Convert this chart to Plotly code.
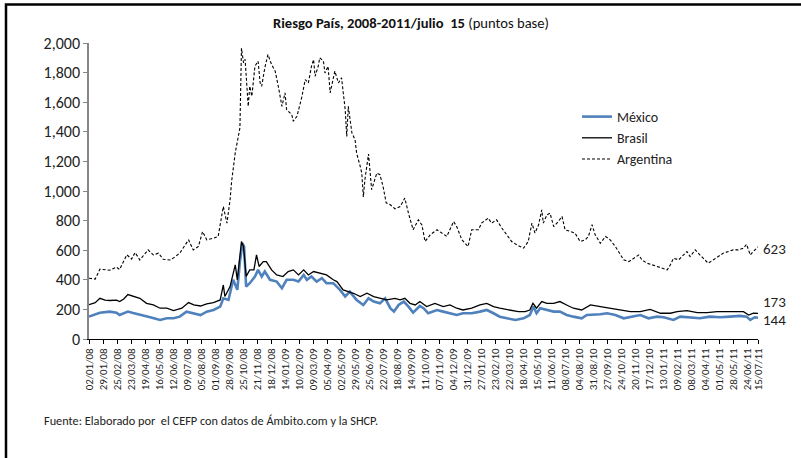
import plotly.graph_objects as go

# ---------------- data ----------------
arg_dates = ["2008-01-02","2008-01-14","2008-01-23","2008-02-11","2008-02-24","2008-03-01","2008-03-15","2008-03-24",
 "2008-03-31","2008-04-09","2008-04-25","2008-05-05","2008-05-15","2008-05-24","2008-06-06","2008-06-12","2008-06-25",
 "2008-07-12","2008-07-21","2008-07-31","2008-08-08","2008-08-16","2008-08-28","2008-09-07","2008-09-17","2008-09-24",
 "2008-09-30","2008-10-03","2008-10-10","2008-10-14","2008-10-19","2008-10-22","2008-10-26","2008-10-29","2008-11-04",
 "2008-11-07","2008-11-11","2008-11-17","2008-11-23","2008-11-27","2008-11-30","2008-12-06","2008-12-12","2008-12-19",
 "2008-12-26","2009-01-01","2009-01-08","2009-01-14","2009-01-17","2009-01-27","2009-01-30","2009-02-06","2009-02-15",
 "2009-02-22","2009-02-28","2009-03-06","2009-03-10","2009-03-13","2009-03-19","2009-03-22","2009-03-29","2009-04-01",
 "2009-04-07","2009-04-11","2009-04-17","2009-04-20","2009-04-27","2009-05-03","2009-05-10","2009-05-13","2009-05-16",
 "2009-05-19","2009-05-23","2009-05-29","2009-06-01","2009-06-08","2009-06-11","2009-06-14","2009-06-17","2009-06-24",
 "2009-06-30","2009-07-10","2009-07-16","2009-07-22","2009-07-28","2009-08-05","2009-08-14","2009-08-24","2009-09-02",
 "2009-09-09","2009-09-18","2009-09-28","2009-10-05","2009-10-11","2009-10-21","2009-11-03","2009-11-12","2009-11-22",
 "2009-12-05","2009-12-11","2009-12-21","2010-01-02","2010-01-09","2010-01-22","2010-01-28","2010-02-10","2010-02-16",
 "2010-02-26","2010-03-08","2010-03-18","2010-03-27","2010-04-06","2010-04-19","2010-04-28","2010-05-05","2010-05-11",
 "2010-05-18","2010-05-24","2010-05-27","2010-06-03","2010-06-09","2010-06-16","2010-06-25","2010-07-02","2010-07-08",
 "2010-07-18","2010-07-27","2010-08-06","2010-08-16","2010-08-22","2010-08-29","2010-09-04","2010-09-14","2010-09-24",
 "2010-10-03","2010-10-13","2010-10-19","2010-10-29","2010-11-08","2010-11-17","2010-11-27","2010-12-03","2010-12-13",
 "2010-12-23","2011-01-01","2011-01-14","2011-01-21","2011-01-27","2011-02-02","2011-02-12","2011-02-21","2011-02-28",
 "2011-03-06","2011-03-16","2011-03-25","2011-04-04","2011-04-10","2011-04-20","2011-04-30","2011-05-09","2011-05-19",
 "2011-05-28","2011-06-07","2011-06-17","2011-06-23","2011-06-30","2011-07-06","2011-07-15"]
arg_vals = [411,405,472,465,485,470,569,540,
 584,534,602,568,580,539,534,545,580,
 670,602,625,726,670,680,692,895,783,
 940,1065,1258,1347,1426,1965,1866,1890,1572,
 1708,1640,1843,1877,1731,1708,1832,1922,1855,
 1810,1708,1572,1663,1550,1516,1471,1505,1629,
 1753,1730,1843,1888,1775,1843,1900,1877,1798,
 1843,1663,1753,1810,1730,1765,1550,1369,1572,
 1505,1392,1347,1257,1166,1121,960,1076,1250,
 1009,1121,1110,1031,920,907,880,895,952,
 850,738,805,770,659,704,738,716,693,
 794,760,670,625,738,738,783,817,783,
 805,750,704,659,636,614,659,783,716,
 772,873,783,839,850,760,794,828,738,
 727,716,659,670,693,772,704,647,693,
 670,625,591,535,523,546,568,535,512,
 501,490,478,467,501,546,535,568,591,
 557,602,568,535,512,535,557,580,591,
 602,602,614,640,568,591,623]

bra_dates = ["2008-01-02","2008-01-14","2008-01-23","2008-02-02","2008-02-11","2008-02-24","2008-03-01","2008-03-09",
 "2008-03-17","2008-03-27","2008-04-09","2008-04-22","2008-05-05","2008-05-18","2008-05-31","2008-06-13","2008-06-29",
 "2008-07-12","2008-07-22","2008-08-04","2008-08-16","2008-08-29","2008-09-11","2008-09-17","2008-09-20","2008-09-30",
 "2008-10-10","2008-10-14","2008-10-18","2008-10-22","2008-10-26","2008-10-31","2008-11-07","2008-11-15","2008-11-20",
 "2008-11-25","2008-12-03","2008-12-09","2008-12-19","2008-12-29","2009-01-10","2009-01-20","2009-01-30","2009-02-09",
 "2009-02-19","2009-02-28","2009-03-10","2009-03-22","2009-04-04","2009-04-17","2009-04-24","2009-05-06","2009-05-26",
 "2009-06-08","2009-06-21","2009-07-04","2009-07-16","2009-07-29","2009-08-14","2009-08-24","2009-09-02","2009-09-12",
 "2009-09-22","2009-10-01","2009-10-14","2009-10-30","2009-11-15","2009-11-28","2009-12-11","2009-12-23","2010-01-09",
 "2010-01-25","2010-02-07","2010-02-20","2010-03-04","2010-03-24","2010-04-09","2010-04-22","2010-05-01","2010-05-07",
 "2010-05-14","2010-05-24","2010-06-03","2010-06-16","2010-06-28","2010-07-11","2010-07-24","2010-08-09","2010-08-26",
 "2010-09-14","2010-10-03","2010-10-22","2010-11-11","2010-11-30","2010-12-19","2011-01-08","2011-01-27","2011-02-09",
 "2011-02-28","2011-03-20","2011-04-08","2011-04-27","2011-05-17","2011-06-05","2011-06-17","2011-06-27","2011-07-06",
 "2011-07-15"]
bra_vals = [232,245,275,262,260,262,253,270,
 300,290,275,241,230,208,208,192,208,
 246,230,223,237,246,264,365,287,354,
 501,400,512,659,624,422,467,467,569,
 490,523,523,467,433,422,456,467,433,
 467,433,456,445,433,400,388,332,309,
 287,309,287,275,264,275,264,275,241,
 230,253,219,241,219,230,208,196,208,
 230,241,219,208,196,185,185,196,241,
 208,253,241,241,253,230,208,196,230,
 219,208,196,185,185,200,174,174,185,
 192,178,178,185,185,185,185,162,174,
 173]

mex_dates = ["2008-01-02","2008-01-14","2008-01-23","2008-02-11","2008-02-24","2008-03-01","2008-03-17","2008-03-27",
 "2008-04-09","2008-04-29","2008-05-18","2008-05-31","2008-06-13","2008-06-25","2008-07-08","2008-07-22","2008-08-04",
 "2008-08-16","2008-08-29","2008-09-11","2008-09-17","2008-09-27","2008-10-06","2008-10-14","2008-10-19","2008-10-24",
 "2008-10-27","2008-10-31","2008-11-07","2008-11-17","2008-11-23","2008-11-30","2008-12-06","2008-12-16","2008-12-29",
 "2009-01-08","2009-01-17","2009-01-30","2009-02-09","2009-02-19","2009-02-25","2009-03-06","2009-03-16","2009-03-26",
 "2009-04-04","2009-04-17","2009-04-30","2009-05-10","2009-05-19","2009-06-01","2009-06-14","2009-06-24","2009-07-04",
 "2009-07-16","2009-07-26","2009-08-05","2009-08-12","2009-08-21","2009-08-31","2009-09-09","2009-09-18","2009-10-01",
 "2009-10-08","2009-10-17","2009-11-03","2009-11-15","2009-11-28","2009-12-11","2009-12-23","2010-01-09","2010-01-25",
 "2010-02-07","2010-02-20","2010-03-04","2010-03-18","2010-04-03","2010-04-19","2010-05-01","2010-05-08","2010-05-14",
 "2010-05-21","2010-06-03","2010-06-16","2010-06-28","2010-07-11","2010-07-24","2010-08-09","2010-08-19","2010-08-29",
 "2010-09-14","2010-09-27","2010-10-13","2010-10-29","2010-11-17","2010-11-30","2010-12-16","2011-01-01","2011-01-14",
 "2011-02-02","2011-02-15","2011-03-06","2011-03-25","2011-04-13","2011-05-03","2011-05-22","2011-06-10","2011-06-23",
 "2011-06-30","2011-07-09","2011-07-15"]
mex_vals = [151,165,178,185,178,162,185,175,
 162,147,129,140,140,151,185,174,162,
 185,196,219,275,264,400,332,523,647,
 624,354,377,422,467,422,456,400,388,
 343,400,400,388,433,400,422,388,411,
 377,377,332,287,320,264,230,275,253,
 241,275,208,185,230,253,219,178,223,
 208,174,196,185,174,162,174,174,185,
 196,174,151,140,129,140,162,219,174,
 208,196,185,185,162,151,140,162,162,
 167,174,162,140,156,162,140,151,147,
 129,151,147,140,151,147,151,156,151,
 129,147,144]

tick_dates = ["2008-01-02","2008-01-29","2008-02-25","2008-03-23","2008-04-19","2008-05-16","2008-06-12","2008-07-09",
 "2008-08-05","2008-09-01","2008-09-28","2008-10-25","2008-11-21","2008-12-18","2009-01-14","2009-02-10","2009-03-09",
 "2009-04-05","2009-05-02","2009-05-29","2009-06-25","2009-07-22","2009-08-18","2009-09-14","2009-10-11","2009-11-07",
 "2009-12-04","2009-12-31","2010-01-27","2010-02-23","2010-03-22","2010-04-18","2010-05-15","2010-06-11","2010-07-08",
 "2010-08-04","2010-08-31","2010-09-27","2010-10-24","2010-11-20","2010-12-17","2011-01-13","2011-02-09","2011-03-08",
 "2011-04-04","2011-05-01","2011-05-28","2011-06-24","2011-07-15"]
tick_text = ["02/01/08","29/01/08","25/02/08","23/03/08","19/04/08","16/05/08","12/06/08","09/07/08",
 "05/08/08","01/09/08","28/09/08","25/10/08","21/11/08","18/12/08","14/01/09","10/02/09","09/03/09",
 "05/04/09","02/05/09","29/05/09","25/06/09","22/07/09","18/08/09","14/09/09","11/10/09","07/11/09",
 "04/12/09","31/12/09","27/01/10","23/02/10","22/03/10","18/04/10","15/05/10","11/06/10","08/07/10",
 "04/08/10","31/08/10","27/09/10","24/10/10","20/11/10","17/12/10","13/01/11","09/02/11","08/03/11",
 "04/04/11","01/05/11","28/05/11","24/06/11","15/07/11"]

# ---------------- figure ----------------
FONT = "Carlito, Calibri, Lato, sans-serif"
W, H = 801, 458
ML, MR, MT, MB = 89, 43, 43, 119
pw, ph = W - ML - MR, H - MT - MB

def px(x):  # pixel -> paper x
    return (x - ML) / pw

def py(y):  # pixel -> paper y
    return (H - MB - y) / ph

fig = go.Figure()
fig.add_trace(go.Scatter(x=mex_dates, y=mex_vals, name="México", mode="lines",
                         line=dict(color="#4F81BD", width=2.6)))
fig.add_trace(go.Scatter(x=bra_dates, y=bra_vals, name="Brasil", mode="lines",
                         line=dict(color="#000000", width=1.3)))
fig.add_trace(go.Scatter(x=arg_dates, y=arg_vals, name="Argentina", mode="lines",
                         line=dict(color="#000000", width=1.1, dash="3px,2px")))

annotations = [
    dict(x=arg_dates[-1], y=arg_vals[-1], xref="x", yref="y", text=str(arg_vals[-1]),
         showarrow=False, xanchor="left", xshift=3, yshift=-2, font=dict(size=15, color="#222")),
    dict(x=bra_dates[-1], y=bra_vals[-1], xref="x", yref="y", text=str(bra_vals[-1]),
         showarrow=False, xanchor="left", xshift=3, yshift=11, font=dict(size=15, color="#222")),
    dict(x=mex_dates[-1], y=mex_vals[-1], xref="x", yref="y", text=str(mex_vals[-1]),
         showarrow=False, xanchor="left", xshift=3, yshift=-2, font=dict(size=15, color="#222")),
    dict(x=px(42), y=py(420), xref="paper", yref="paper", xanchor="left", yanchor="middle",
         text="Fuente: Elaborado por  el CEFP con datos de Ámbito.com y la SHCP.", showarrow=False,
         font=dict(size=12.3, color="#222")),
    dict(x=px(411), y=py(23), xref="paper", yref="paper", xanchor="center", yanchor="middle",
         text="<b>Riesgo País, 2008-2011/julio  15</b> (puntos base)", showarrow=False,
         font=dict(size=14.6, color="#111")),
]

fig.update_layout(
    width=W, height=H,
    margin=dict(l=ML, r=MR, t=MT, b=MB),
    paper_bgcolor="white", plot_bgcolor="white",
    font=dict(family=FONT, color="#222"),
    showlegend=True,
    legend=dict(x=px(577), y=py(101), xanchor="left", yanchor="top",
                font=dict(size=14, color="#222"), bgcolor="rgba(0,0,0,0)",
                tracegroupgap=0, itemwidth=30),
    annotations=annotations,
    shapes=[dict(type="rect", xref="paper", yref="paper", x0=px(6), x1=px(830), y0=py(490), y1=py(4.5),
                 line=dict(color="black", width=2.5), fillcolor="rgba(0,0,0,0)", layer="above")],
    xaxis=dict(type="date", range=["2008-01-02", "2011-07-15"], tickmode="array",
               tickvals=tick_dates, ticktext=tick_text, tickangle=-90,
               showgrid=False, zeroline=False, showline=True, linecolor="black", linewidth=1,
               ticks="outside", ticklen=4, tickcolor="black", automargin=False,
               tickfont=dict(family=FONT, size=11, color="#222")),
    yaxis=dict(range=[0, 2000], dtick=200, tickformat=",", showgrid=False, zeroline=False,
               showline=True, linecolor="#868686", linewidth=1.5, ticks="outside", ticklen=4,
               tickcolor="#868686", automargin=False, tickfont=dict(size=16, color="#222")),
)

fig.write_html("out.html", config={"displayModeBar": False},
               post_script="document.body.style.margin='0';document.body.style.overflow='hidden';")
